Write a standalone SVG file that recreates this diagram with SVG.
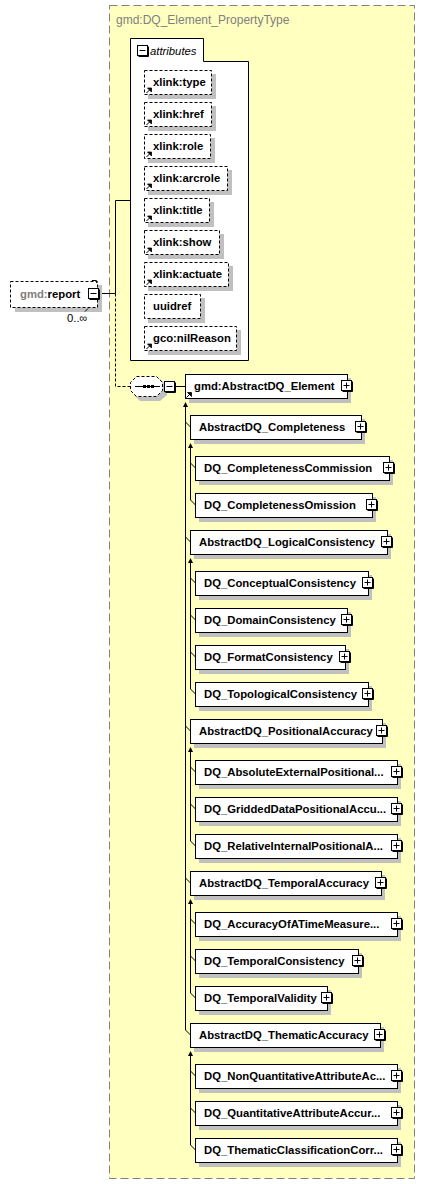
<svg xmlns="http://www.w3.org/2000/svg" xmlns:xlink="http://www.w3.org/1999/xlink" width="425" height="1184" viewBox="0 0 425 1184">
<style>
text{font-family:"Liberation Sans",Arial,sans-serif;font-size:11.3px;fill:#000}
.b{font-weight:bold}
.g{fill:#808080}
.title{font-size:12px;fill:#808080}
.it{font-style:italic}
.box{fill:#fff;stroke:#000;stroke-width:1}
.dbox{fill:#fff;stroke:#000;stroke-width:1;stroke-dasharray:3,2}
.sh{fill:#c0c0c0}
.ln{fill:none;stroke:#000;stroke-width:1}
.dl{fill:none;stroke:#000;stroke-width:1;stroke-dasharray:3,2}
.ar{fill:#000}
</style>
<defs>
<g id="plus"><path d="M11.5,1.5V11.5H1.5" fill="none" stroke="#000"/><rect x="0.5" y="0.5" width="10" height="10" fill="#fff" stroke="#000"/><path d="M2.5,5.5H8.5M5.5,2.5V8.5" stroke="#000"/></g>
<g id="minus"><path d="M11.5,1.5V11.5H1.5" fill="none" stroke="#000"/><rect x="0.5" y="0.5" width="10" height="10" fill="#fff" stroke="#000"/><path d="M2.5,5.5H8.5" stroke="#000"/></g>
<g id="ref"><path d="M0.5,5.5L4,2" stroke="#000" fill="none"/><path d="M1.5,0.5H5.5V4.5Z" fill="#000" stroke="#000" stroke-width="0.8"/></g>
</defs>

<g id="container">
<rect x="109.5" y="5.5" width="305" height="1173" fill="#ffffc0" stroke="#808080" stroke-dasharray="8,4"/>
<text class="title" x="116" y="23.5">gmd:DQ_Element_PropertyType</text>
</g>

<g id="connectors">
<path class="ln" d="M99,293.5H115.5M115.5,200.5V293.5M115.5,200.5H130"/>
<path class="dl" d="M115.5,293.5V386.5H130"/>
<path class="ln" d="M176,386.5H185"/>
<path class="ln" d="M185.5,406V1030"/>
<polygon class="ar" points="185.5,402 183,407 188,407"/>
<path class="ln" d="M185.5,422L190.5,427M185.5,537L190.5,542M185.5,726L190.5,731M185.5,878L190.5,883M185.5,1030L190.5,1035"/>
<path class="ln" d="M190.5,447V500M190.5,562V689M190.5,751V841M190.5,903V993M190.5,1055V1145"/>
<polygon class="ar" points="190.5,443 188,448 193,448"/>
<polygon class="ar" points="190.5,558 188,563 193,563"/>
<polygon class="ar" points="190.5,747 188,752 193,752"/>
<polygon class="ar" points="190.5,899 188,904 193,904"/>
<polygon class="ar" points="190.5,1051 188,1056 193,1056"/>
<path class="ln" d="M190.5,463L195.5,468M190.5,500L195.5,505M190.5,578L195.5,583M190.5,615L195.5,620M190.5,652L195.5,657M190.5,689L195.5,694M190.5,767L195.5,772M190.5,804L195.5,809M190.5,841L195.5,846M190.5,919L195.5,924M190.5,956L195.5,961M190.5,993L195.5,998M190.5,1071L195.5,1076M190.5,1108L195.5,1113M190.5,1145L195.5,1150"/>
</g>

<g id="report">
<rect class="sh" x="15" y="285" width="87" height="27"/>
<rect class="dbox" x="10.5" y="281.5" width="87" height="26"/>
<path class="ln" d="M92,280.5H96.5V283"/>
<path class="ln" d="M85,311.5L88,308.5"/>
<text class="b" x="20" y="298"><tspan class="g">gmd:</tspan>report</text>
<use xlink:href="#minus" x="88" y="288"/>
<text x="67" y="322">0..∞</text>
</g>

<g id="attributes">
<path class="box" d="M130.5,360.5V38.5H203.5V61.5H248.5V360.5Z"/>
<use xlink:href="#minus" x="137" y="45"/>
<text class="it" x="150" y="54.5">attributes</text>
</g>

<g id="attr-type"><rect class="sh" x="148" y="74" width="68" height="25"/><rect class="dbox" x="144.5" y="70.5" width="67" height="24"/><use xlink:href="#ref" x="146" y="87.5"/><text class="b" x="153" y="86">xlink:type</text></g>
<g id="attr-href"><rect class="sh" x="148" y="106" width="68" height="25"/><rect class="dbox" x="144.5" y="102.5" width="67" height="24"/><use xlink:href="#ref" x="146" y="119.5"/><text class="b" x="153" y="118">xlink:href</text></g>
<g id="attr-role"><rect class="sh" x="148" y="138" width="67" height="25"/><rect class="dbox" x="144.5" y="134.5" width="66" height="24"/><use xlink:href="#ref" x="146" y="151.5"/><text class="b" x="153" y="150">xlink:role</text></g>
<g id="attr-arcrole"><rect class="sh" x="148" y="170" width="84" height="25"/><rect class="dbox" x="144.5" y="166.5" width="83" height="24"/><use xlink:href="#ref" x="146" y="183.5"/><text class="b" x="153" y="182">xlink:arcrole</text></g>
<g id="attr-title"><rect class="sh" x="148" y="202" width="66" height="25"/><rect class="dbox" x="144.5" y="198.5" width="65" height="24"/><use xlink:href="#ref" x="146" y="215.5"/><text class="b" x="153" y="214">xlink:title</text></g>
<g id="attr-show"><rect class="sh" x="148" y="234" width="76" height="25"/><rect class="dbox" x="144.5" y="230.5" width="75" height="24"/><use xlink:href="#ref" x="146" y="247.5"/><text class="b" x="153" y="246">xlink:show</text></g>
<g id="attr-actuate"><rect class="sh" x="148" y="266" width="85" height="25"/><rect class="dbox" x="144.5" y="262.5" width="84" height="24"/><use xlink:href="#ref" x="146" y="279.5"/><text class="b" x="153" y="278">xlink:actuate</text></g>
<g id="attr-uuidref"><rect class="sh" x="148" y="298" width="57" height="25"/><rect class="dbox" x="144.5" y="294.5" width="56" height="24"/><text class="b" x="153" y="310">uuidref</text></g>
<g id="attr-nilReason"><rect class="sh" x="148" y="330" width="93" height="25"/><rect class="dbox" x="144.5" y="326.5" width="92" height="24"/><use xlink:href="#ref" x="146" y="343.5"/><text class="b" x="153" y="342">gco:nilReason</text></g>

<g id="sequence">
<path class="sh" d="M140,379H160L167,386V395L160,401H140L134,395V386Z"/>
<path class="dbox" d="M136.5,376.5H156.5L162.5,382.5V390.5L156.5,396.5H136.5L130.5,390.5V382.5Z"/>
<path class="ln" d="M135,386.5H160"/>
<rect class="ar" x="143" y="385" width="3" height="3"/>
<rect class="ar" x="147" y="385" width="3" height="3"/>
<rect class="ar" x="151" y="385" width="3" height="3"/>
<use xlink:href="#minus" x="164" y="381"/>
</g>

<g id="AbstractDQ_Element"><rect class="sh" x="189" y="378" width="162" height="25"/><rect class="box" x="185.5" y="374.5" width="162" height="24"/><use xlink:href="#ref" x="186" y="392"/><text class="b" x="194" y="390">gmd:AbstractDQ_Element</text><use xlink:href="#plus" x="341" y="380"/></g>

<g id="AbstractDQ_Completeness"><rect class="sh" x="194" y="419" width="171" height="25"/><rect class="box" x="190.5" y="415.5" width="171" height="24"/><text class="b" x="199" y="431">AbstractDQ_Completeness</text><use xlink:href="#plus" x="355" y="421"/></g>
<g id="DQ_CompletenessCommission"><rect class="sh" x="199" y="460" width="194" height="25"/><rect class="box" x="195.5" y="456.5" width="194" height="24"/><text class="b" x="204" y="472">DQ_CompletenessCommission</text><use xlink:href="#plus" x="383" y="462"/></g>
<g id="DQ_CompletenessOmission"><rect class="sh" x="199" y="497" width="177" height="25"/><rect class="box" x="195.5" y="493.5" width="177" height="24"/><text class="b" x="204" y="509">DQ_CompletenessOmission</text><use xlink:href="#plus" x="366" y="499"/></g>

<g id="AbstractDQ_LogicalConsistency"><rect class="sh" x="194" y="534" width="197" height="25"/><rect class="box" x="190.5" y="530.5" width="197" height="24"/><text class="b" x="199" y="546">AbstractDQ_LogicalConsistency</text><use xlink:href="#plus" x="381" y="536"/></g>
<g id="DQ_ConceptualConsistency"><rect class="sh" x="199" y="575" width="173" height="25"/><rect class="box" x="195.5" y="571.5" width="173" height="24"/><text class="b" x="204" y="587">DQ_ConceptualConsistency</text><use xlink:href="#plus" x="362" y="577"/></g>
<g id="DQ_DomainConsistency"><rect class="sh" x="199" y="612" width="152" height="25"/><rect class="box" x="195.5" y="608.5" width="152" height="24"/><text class="b" x="204" y="624">DQ_DomainConsistency</text><use xlink:href="#plus" x="341" y="614"/></g>
<g id="DQ_FormatConsistency"><rect class="sh" x="199" y="649" width="150" height="25"/><rect class="box" x="195.5" y="645.5" width="150" height="24"/><text class="b" x="204" y="661">DQ_FormatConsistency</text><use xlink:href="#plus" x="339" y="651"/></g>
<g id="DQ_TopologicalConsistency"><rect class="sh" x="199" y="686" width="173" height="25"/><rect class="box" x="195.5" y="682.5" width="173" height="24"/><text class="b" x="204" y="698">DQ_TopologicalConsistency</text><use xlink:href="#plus" x="362" y="688"/></g>

<g id="AbstractDQ_PositionalAccuracy"><rect class="sh" x="194" y="723" width="192" height="25"/><rect class="box" x="190.5" y="719.5" width="192" height="24"/><text class="b" x="199" y="735">AbstractDQ_PositionalAccuracy</text><use xlink:href="#plus" x="376" y="725"/></g>
<g id="DQ_AbsoluteExternalPositionalAccuracy"><rect class="sh" x="199" y="764" width="202" height="25"/><rect class="box" x="195.5" y="760.5" width="202" height="24"/><text class="b" x="204" y="776">DQ_AbsoluteExternalPositional...</text><use xlink:href="#plus" x="391" y="766"/></g>
<g id="DQ_GriddedDataPositionalAccuracy"><rect class="sh" x="199" y="801" width="202" height="25"/><rect class="box" x="195.5" y="797.5" width="202" height="24"/><text class="b" x="204" y="813">DQ_GriddedDataPositionalAccu...</text><use xlink:href="#plus" x="391" y="803"/></g>
<g id="DQ_RelativeInternalPositionalAccuracy"><rect class="sh" x="199" y="838" width="202" height="25"/><rect class="box" x="195.5" y="834.5" width="202" height="24"/><text class="b" x="204" y="850">DQ_RelativeInternalPositionalA...</text><use xlink:href="#plus" x="391" y="840"/></g>

<g id="AbstractDQ_TemporalAccuracy"><rect class="sh" x="194" y="875" width="191" height="25"/><rect class="box" x="190.5" y="871.5" width="191" height="24"/><text class="b" x="199" y="887">AbstractDQ_TemporalAccuracy</text><use xlink:href="#plus" x="375" y="877"/></g>
<g id="DQ_AccuracyOfATimeMeasurement"><rect class="sh" x="199" y="916" width="202" height="25"/><rect class="box" x="195.5" y="912.5" width="202" height="24"/><text class="b" x="204" y="928">DQ_AccuracyOfATimeMeasure...</text><use xlink:href="#plus" x="391" y="918"/></g>
<g id="DQ_TemporalConsistency"><rect class="sh" x="199" y="953" width="163" height="25"/><rect class="box" x="195.5" y="949.5" width="163" height="24"/><text class="b" x="204" y="965">DQ_TemporalConsistency</text><use xlink:href="#plus" x="352" y="955"/></g>
<g id="DQ_TemporalValidity"><rect class="sh" x="199" y="990" width="132" height="25"/><rect class="box" x="195.5" y="986.5" width="132" height="24"/><text class="b" x="204" y="1002">DQ_TemporalValidity</text><use xlink:href="#plus" x="321" y="992"/></g>

<g id="AbstractDQ_ThematicAccuracy"><rect class="sh" x="194" y="1027" width="190" height="25"/><rect class="box" x="190.5" y="1023.5" width="190" height="24"/><text class="b" x="199" y="1039">AbstractDQ_ThematicAccuracy</text><use xlink:href="#plus" x="374" y="1029"/></g>
<g id="DQ_NonQuantitativeAttributeAccuracy"><rect class="sh" x="199" y="1068" width="202" height="25"/><rect class="box" x="195.5" y="1064.5" width="202" height="24"/><text class="b" x="204" y="1080">DQ_NonQuantitativeAttributeAc...</text><use xlink:href="#plus" x="391" y="1070"/></g>
<g id="DQ_QuantitativeAttributeAccuracy"><rect class="sh" x="199" y="1105" width="202" height="25"/><rect class="box" x="195.5" y="1101.5" width="202" height="24"/><text class="b" x="204" y="1117">DQ_QuantitativeAttributeAccur...</text><use xlink:href="#plus" x="391" y="1107"/></g>
<g id="DQ_ThematicClassificationCorrectness"><rect class="sh" x="199" y="1142" width="202" height="25"/><rect class="box" x="195.5" y="1138.5" width="202" height="24"/><text class="b" x="204" y="1154">DQ_ThematicClassificationCorr...</text><use xlink:href="#plus" x="391" y="1144"/></g>
</svg>
